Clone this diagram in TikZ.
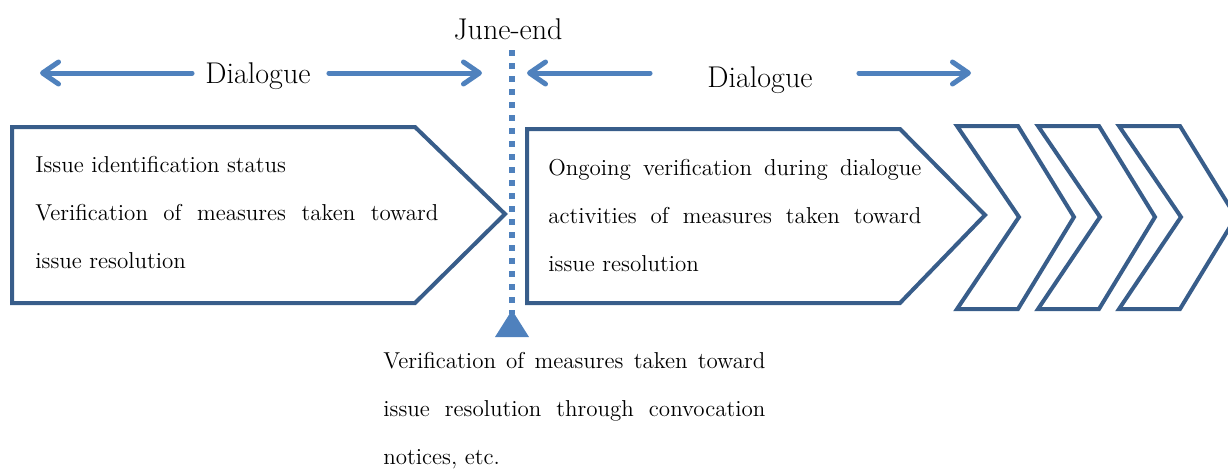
\documentclass[tikz,border=0pt]{standalone}
\usetikzlibrary{arrows.meta}
\definecolor{boxblue}{RGB}{56,93,138}
\definecolor{lineblue}{RGB}{79,129,189}
\begin{document}
\begin{tikzpicture}[x=0.5pt,y=-0.5pt,
  stage/.style={draw=boxblue, line width=2pt, line join=miter},
  flow/.style={draw=lineblue, line width=2.5pt, line cap=round,
    -{Straight Barb[length=8pt,width=11pt,round]}},
  heading/.style={font=\fontsize{15}{18}\selectfont, inner sep=0pt, anchor=base},
  body/.style={font=\fontsize{11.5}{24}\selectfont, inner sep=0pt, align=left, anchor=base west}]
\useasboundingbox (0,0) rectangle (1228,468);
\clip (0,0) rectangle (1228,468);

% stage boxes
\draw[stage] (12,127) -- (415,127) -- (505,214) -- (415,303) -- (12,303) -- cycle;
\draw[stage] (527,129) -- (900,129) -- (985,215) -- (900,303) -- (527,303) -- cycle;
\foreach \x in {957,1038,1119}
  \draw[stage] (\x,126) -- ++(61,0) -- ++(56,91) -- ++(-56,92) -- ++(-61,0) -- ++(62,-92) -- cycle;

% deadline marker
\node[heading] (june) at (508,39) {June-end};
\coordinate (lineTop) at (512,50);
\coordinate (lineBot) at (512,314);
\draw[lineblue, line width=3pt, dash pattern=on 3pt off 3.5pt] (lineTop) -- (lineBot);
\fill[lineblue] (512,310) -- (529,337) -- (495,337) -- cycle;

% dialogue spans
\node[heading] (dlgL) at (258,83) {Dialogue};
\node[heading] (dlgR) at (760,87) {Dialogue};
\coordinate (tipLL) at (40,73);
\coordinate (tipLR) at (482,73);
\coordinate (tipRL) at (527,73);
\coordinate (tipRR) at (971,73);
\draw[flow] ([xshift=-6.5pt]dlgL.west |- tipLL) -- (tipLL);
\draw[flow] ([xshift=9pt]dlgL.east |- tipLR) -- (tipLR);
\draw[flow] ([xshift=-28.5pt]dlgR.west |- tipRL) -- (tipRL);
\draw[flow] ([xshift=23pt]dlgR.east |- tipRR) -- (tipRR);

% texts (anchored at the baseline of the last line)
\node[body] (txtL) at (35,268) {Issue identification status\\
  \makebox[201.5pt][s]{Verification of measures taken toward}\\
  issue resolution};
\node[body] (txtR) at (548,271) {\makebox[186.5pt][s]{Ongoing verification during dialogue}\\
  \makebox[186.5pt][s]{activities of measures taken toward}\\
  issue resolution};
\node[body] (txtB) at (383,464) {\makebox[191pt][s]{Verification of measures taken toward}\\
  \makebox[191pt][s]{issue resolution through convocation}\\
  notices, etc.};
\end{tikzpicture}
\end{document}
